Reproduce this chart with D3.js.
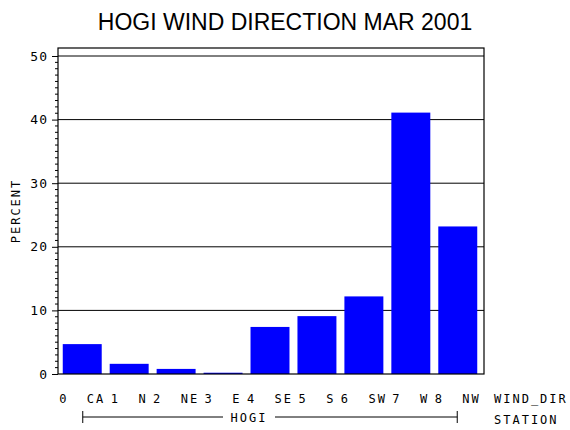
<!DOCTYPE html>
<html><head><meta charset="utf-8">
<script src="https://cdn.jsdelivr.net/npm/d3@7"></script>
<style>body{margin:0;background:#fff}text{font-family:"DejaVu Sans Mono",monospace;fill:#000}</style>
</head><body><div id="chart"></div>
<script>
const categories = ["0 CA", "1 N", "2 NE", "3 E", "4 SE", "5 S", "6 SW", "7 W", "8 NW"];
const percents = [4.7, 1.6, 0.8, 0.2, 7.4, 9.1, 12.2, 41.1, 23.2];
const yTicks = [0, 10, 20, 30, 40, 50];

const width = 570, height = 430;
const plotLeft = 58, plotRight = 484, plotTop = 48, plotBottom = 374;

const svg = d3.select("#chart").append("svg").attr("width", width).attr("height", height);

const x = d3.scaleBand().domain(categories).range([plotLeft + 1, plotRight - 3]).paddingInner(0.17).paddingOuter(0.08);
const y = d3.scaleLinear().domain([0, 50]).range([plotBottom, 56]);

// gridlines
svg.selectAll("line.grid").data(yTicks.slice(1)).enter().append("line")
    .attr("x1", plotLeft).attr("x2", plotRight).attr("y1", d => y(d)).attr("y2", d => y(d))
    .attr("stroke", "#000").attr("stroke-width", 1);

svg.selectAll("rect.bar").data(percents).enter().append("rect")
    .attr("x", (d, i) => x(categories[i]))
    .attr("width", x.bandwidth())
    .attr("y", d => y(d))
    .attr("height", d => plotBottom - y(d))
    .attr("fill", "#0000ff");

// frame
svg.append("rect").attr("x", plotLeft).attr("y", plotTop).attr("width", plotRight - plotLeft).attr("height", plotBottom - plotTop)
    .attr("fill", "none").attr("stroke", "#000").attr("stroke-width", 1.2);

// y axis
const yAxis = d3.axisLeft(y).tickValues(yTicks).tickSize(6).tickPadding(4).tickFormat(d3.format("d"));
const ga = svg.append("g").attr("transform", `translate(${plotLeft},0)`).call(yAxis);
ga.select(".domain").remove();
ga.selectAll("text").style("font-size", "13px").attr("letter-spacing", "1px");
const minor = d3.range(0, 51).filter(d => d % 10 !== 0);
svg.selectAll("line.minor").data(minor).enter().append("line")
    .attr("x1", plotLeft - 3).attr("x2", plotLeft).attr("y1", d => y(d)).attr("y2", d => y(d))
    .attr("stroke", "#000");

svg.append("text").attr("transform", "translate(20,211) rotate(-90)")
    .attr("text-anchor", "middle").style("font-size", "12px").attr("letter-spacing", "2px").text("PERCENT");

// x labels
svg.selectAll("text.cat").data(categories).enter().append("text")
    .attr("x", d => x(d) + x.bandwidth() / 2).attr("y", 403)
    .attr("text-anchor", "middle").style("font-size", "12px")
    .attr("xml:space", "preserve").attr("letter-spacing", "2px")
    .text(d => d.replace(" ", "  "));
svg.append("text").attr("x", 494).attr("y", 403).style("font-size", "12px").attr("letter-spacing", "2px").text("WIND_DIR");
svg.append("text").attr("x", 494).attr("y", 424).style("font-size", "12px").attr("letter-spacing", "2px").text("STATION");

// station bracket
const sx1 = x(categories[0]) + 20, sx2 = x(categories[8]) + x.bandwidth() - 20;
svg.append("line").attr("x1", sx1).attr("x2", 223).attr("y1", 417).attr("y2", 417).attr("stroke", "#000");
svg.append("line").attr("x1", 275).attr("x2", sx2).attr("y1", 417).attr("y2", 417).attr("stroke", "#000");
[sx1, sx2].forEach(v => svg.append("line").attr("x1", v).attr("x2", v).attr("y1", 411).attr("y2", 423).attr("stroke", "#000"));
svg.append("text").attr("x", 249).attr("y", 422).attr("text-anchor", "middle").style("font-size", "12px").attr("letter-spacing", "2px").text("HOGI");

svg.append("text").attr("x", 285).attr("y", 30).attr("text-anchor", "middle")
    .style("font-family", "Liberation Sans, sans-serif").style("font-size", "23px").text("HOGI WIND DIRECTION MAR 2001");
</script></body></html>
